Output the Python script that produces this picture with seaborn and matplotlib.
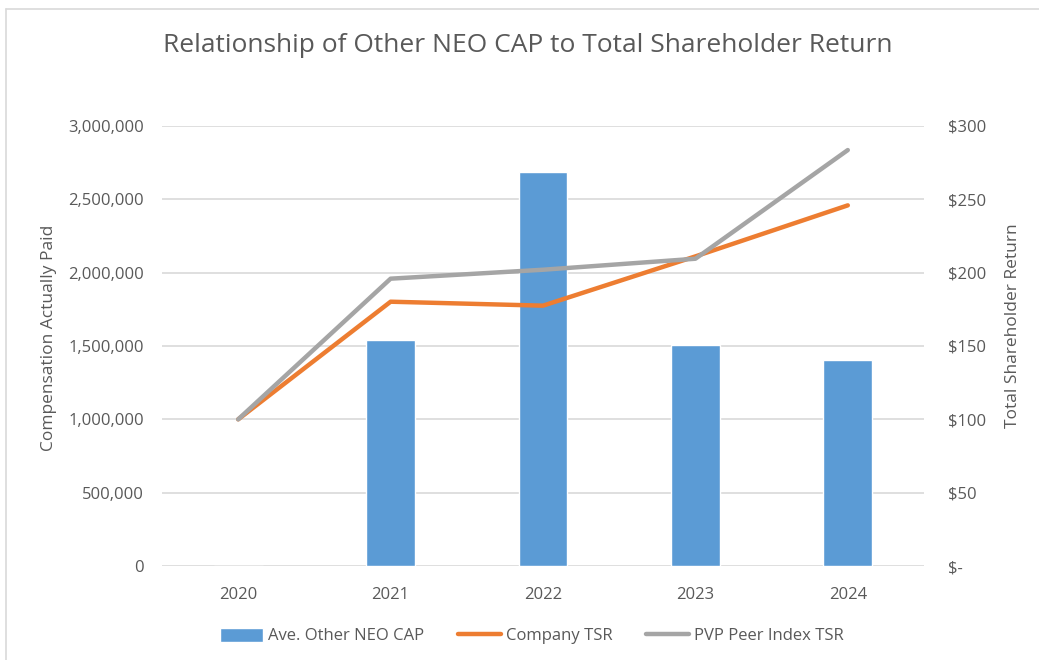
import numpy as np
import seaborn as sns
import matplotlib.pyplot as plt
from matplotlib.lines import Line2D
from matplotlib.ticker import FuncFormatter

# chart values
years = ['2020', '2021', '2022', '2023', '2024']
neo_cap = [0, 1541000, 2684000, 1507000, 1402000]
company_tsr = [100, 180.2, 177.5, 211.1, 245.9]
peer_tsr = [100, 195.9, 202.0, 209.5, 283.6]

bar_color = '#5B9BD5'
orange = '#ED7D31'
grey = '#A5A5A5'
text_color = '#595959'

sns.set_theme(style='white')
plt.rcParams['font.family'] = ['Open Sans', 'DejaVu Sans']

fig = plt.figure(figsize=(10.39, 6.6), dpi=100)
ax = fig.add_axes([162 / 1039, 1 - 566 / 660, (924 - 162) / 1039, (566 - 126) / 660])

sns.barplot(x=years, y=neo_cap, ax=ax, color=bar_color, width=0.32, saturation=1,
            label='Ave. Other NEO CAP')
if ax.get_legend() is not None:
    ax.get_legend().remove()
ax.set_xlim(-0.5, len(years) - 0.5)
ax.set_ylim(0, 3000000)
ax.set_yticks(np.arange(0, 3000001, 500000))
ax.yaxis.set_major_formatter(FuncFormatter(lambda v, p: f'{v:,.0f}'))
ax.grid(axis='y', color='#D9D9D9', linewidth=1.2)
ax.set_axisbelow(True)
for s in ax.spines.values():
    s.set_visible(False)
ax.tick_params(axis='y', length=0, labelsize=12, labelcolor=text_color, pad=13)
ax.tick_params(axis='x', length=0, labelsize=12, labelcolor=text_color, pad=15)
ax.set_ylabel('Compensation Actually Paid', fontsize=12.5, color=text_color, labelpad=8)
ax.yaxis.label.set_y(0.518)

ax2 = ax.twinx()
x = np.arange(len(years))
sns.lineplot(x=x, y=company_tsr, ax=ax2, color=orange, linewidth=3.2, label='Company TSR',
             legend=False)
sns.lineplot(x=x, y=peer_tsr, ax=ax2, color=grey, linewidth=3.2, label='PVP Peer Index TSR',
             legend=False)
ax2.set_ylim(0, 300)
ax2.set_yticks(np.arange(0, 301, 50))
ax2.yaxis.set_major_formatter(FuncFormatter(lambda v, p: '$-' if v == 0 else f'${v:,.0f}'))
for s in ax2.spines.values():
    s.set_visible(False)
ax2.tick_params(axis='y', length=0, labelsize=12, labelcolor=text_color, pad=17)
ax2.set_ylabel('Total Shareholder Return', fontsize=12.5, color=text_color, labelpad=14)
ax2.yaxis.label.set_y(0.547)
ax2.set_xlim(-0.5, len(years) - 0.5)

fig.suptitle('Relationship of Other NEO CAP to Total Shareholder Return', x=528 / 1039,
             y=1 - 45 / 660, va='center', fontsize=19, color=text_color)

h1, l1 = ax.get_legend_handles_labels()
h2, l2 = ax2.get_legend_handles_labels()
fig.legend(h1 + h2, l1 + l2, loc='center', bbox_to_anchor=(532 / 1039, 1 - 636 / 660),
           ncol=3, frameon=False, fontsize=12, labelcolor=text_color,
           handlelength=2.6, handleheight=0.9, handletextpad=0.3, columnspacing=2.0)

# light chart-area border (left and top edges visible in the reference)
fig.add_artist(Line2D([6 / 1039, 6 / 1039], [0, 1 - 9 / 660], color='#D9D9D9', linewidth=1.2))
fig.add_artist(Line2D([6 / 1039, 1], [1 - 9 / 660, 1 - 9 / 660], color='#D9D9D9', linewidth=1.2))

fig.savefig('out.png', dpi=100)
